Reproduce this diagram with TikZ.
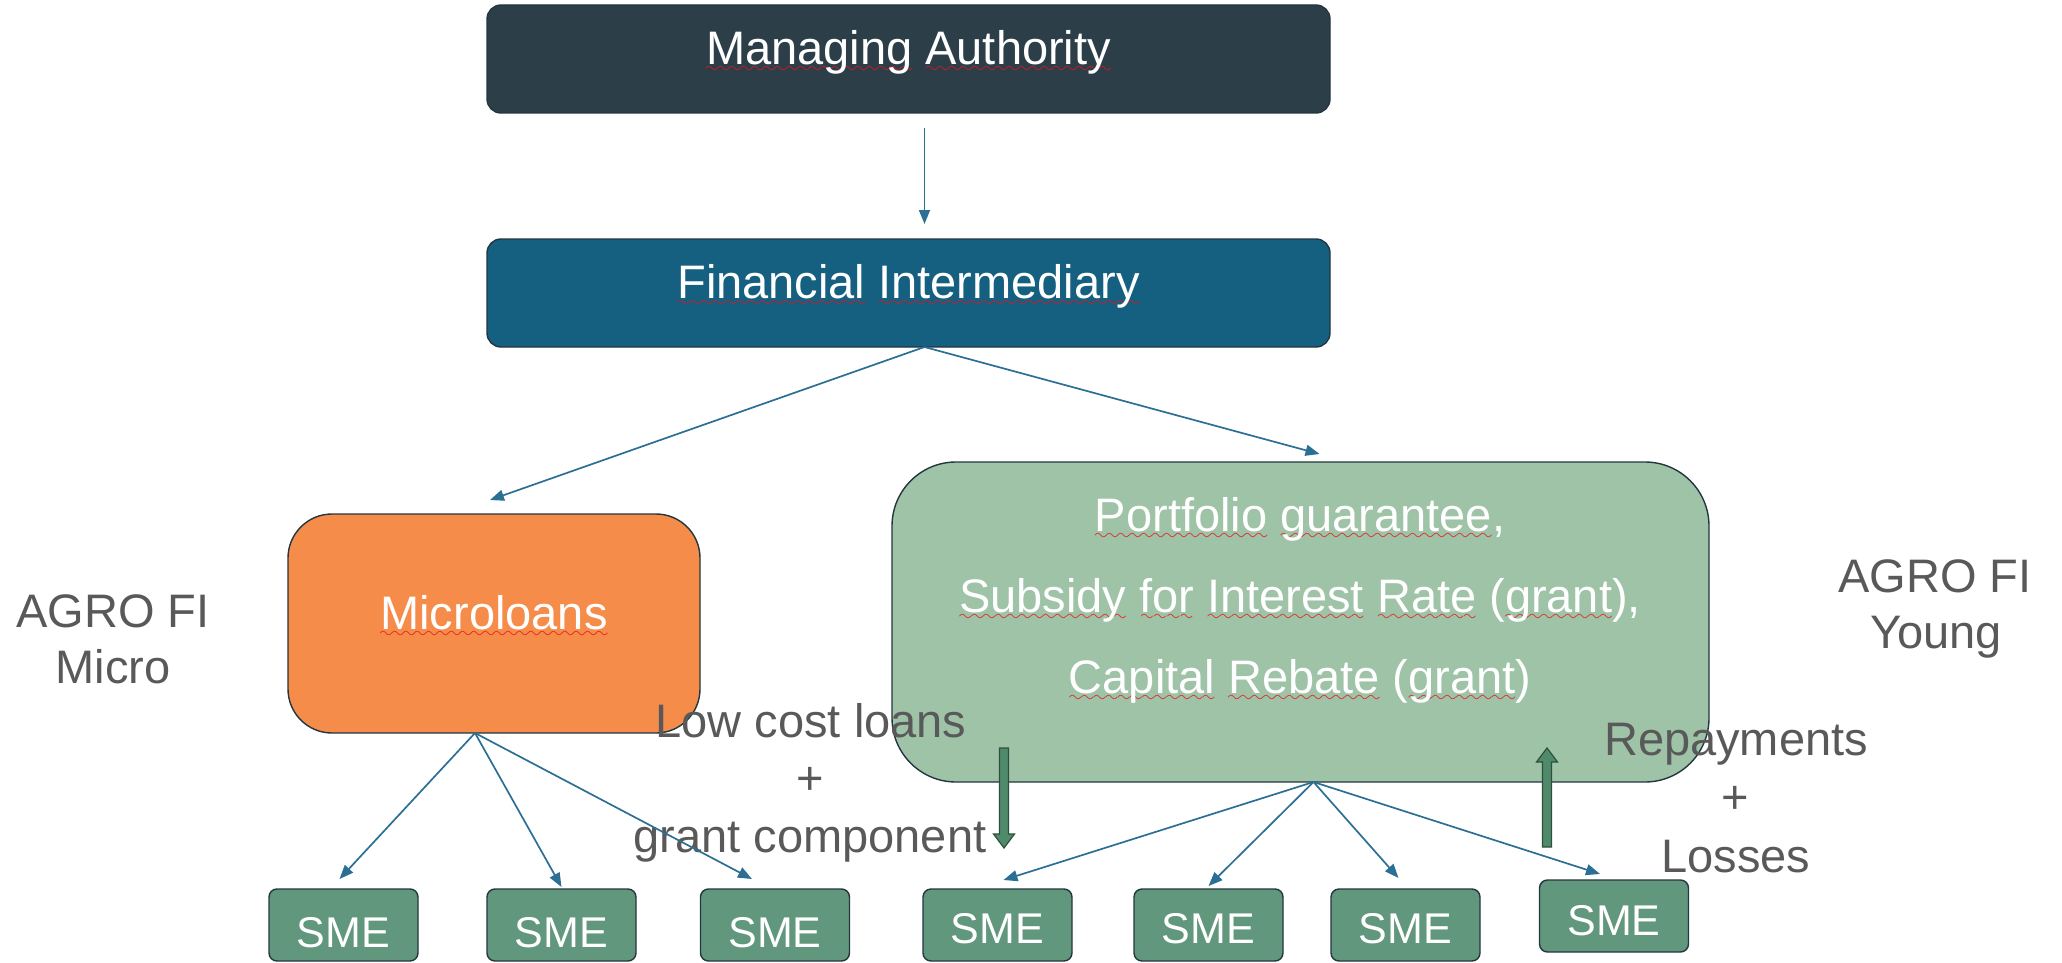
\documentclass[tikz,border=0pt]{standalone}
\usepackage{fontspec}
\setmainfont{Liberation Sans}
\usetikzlibrary{arrows.meta}
\definecolor{maC}{HTML}{2C3F49}
\definecolor{fiC}{HTML}{155F80}
\definecolor{mlC}{HTML}{F58C4A}
\definecolor{pgC}{HTML}{9EC3A7}
\definecolor{smeC}{HTML}{61977C}
\definecolor{edgeC}{HTML}{24363F}
\definecolor{connC}{HTML}{2C6F94}
\definecolor{grayC}{HTML}{595959}
\definecolor{blkC}{HTML}{4F8B6B}
\definecolor{blkE}{HTML}{2E4F3E}
\definecolor{sqred}{HTML}{E8141A}
\newcommand\bigf{\fontsize{23.5}{28}\selectfont}
\newcommand\smef{\fontsize{21.5}{26}\selectfont}
\font\wavefont=lasy8 \relax
\newsavebox\sqbox
\newcommand\sq[1]{\sbox\sqbox{#1}\rlap{\textcolor{sqred}{\lower4pt\hbox to\wd\sqbox{\xleaders\hbox{\wavefont\char58}\hfil}}}\usebox\sqbox}
\tikzset{
  boxs/.style={draw=edgeC, line width=0.7pt, inner sep=0pt, outer sep=0pt},
  boxt/.style={text=white, font=\bigf, inner sep=0pt, anchor=base},
  grayt/.style={text=grayC, font=\bigf, inner sep=0pt, anchor=base},
  smet/.style={text=white, font=\smef, inner sep=0pt, anchor=base},
  smebox/.style={boxs, fill=smeC, rounded corners=4pt, minimum width=74.5pt, minimum height=36pt},
  conn/.style={draw=connC, line width=0.85pt, -{Triangle[length=7pt,width=5.5pt]}},
  blk/.style={fill=blkC, draw=blkE, line width=0.6pt, line join=miter}
}
\begin{document}
\begin{tikzpicture}[x=0.5pt,y=-0.5pt]
\useasboundingbox (0,0) rectangle (2062,963);
% boxes
\node[boxs, fill=maC, rounded corners=7pt, minimum width=421.5pt, minimum height=54pt] (ma) at (908.5,59) {};
\node[boxs, fill=fiC, rounded corners=7pt, minimum width=421.5pt, minimum height=54pt] (fi) at (908.5,293) {};
\node[boxs, fill=mlC, rounded corners=22pt, minimum width=206pt, minimum height=109.5pt] (ml) at (494,623.5) {};
\node[boxs, fill=pgC, rounded corners=32pt, minimum width=408.5pt, minimum height=160pt] (pg) at (1300.5,622) {};
\node[smebox] (sme1) at (343.5,925) {};
\node[smebox] (sme2) at (561.5,925) {};
\node[smebox] (sme3) at (775,925) {};
\node[smebox] (sme4) at (997.5,925) {};
\node[smebox] (sme5) at (1208.5,925) {};
\node[smebox] (sme6) at (1405.5,925) {};
\node[smebox] (sme7) at (1614,916) {};
% box texts
\node[boxt] (mat) at (908.5,65) {\sq{Managing} \sq{Authority}};
\node[boxt] (fit) at (908.5,298) {\sq{Financial} \sq{Intermediary}};
\node[boxt] (mlt) at (494,629) {\sq{Microloans}};
\node[boxt] (pgt1) at (1300,531) {\sq{Portfolio} \sq{guarantee},};
\node[boxt] (pgt2) at (1300,612) {\sq{Subsidy} \sq{for} \sq{Interest} \sq{Rate} (\sq{grant}),};
\node[boxt] (pgt3) at (1300,693) {\sq{Capital} \sq{Rebate} (\sq{grant})};
\foreach \i/\x/\y in {1/343.5/947,2/561.5/947,3/775/947,4/997.5/943,5/1208.5/943,6/1405.5/943,7/1614/935}
  \node[smet] (smet\i) at (\x,\y) {SME};
% gray labels
\node[grayt] (agm1) at (113,627) {AGRO FI};
\node[grayt] (agm2) at (113,683) {Micro};
\node[grayt] (agy1) at (1935,592) {AGRO FI};
\node[grayt] (agy2) at (1936,648) {Young};
\node[grayt] (lc1) at (811,737) {Low cost loans};
\node[grayt] (lc2) at (810,794.5) {+};
\node[grayt] (lc3) at (810,852) {grant component};
\node[grayt] (rp1) at (1736,755) {Repayments};
\node[grayt] (rp2) at (1735,813.5) {+};
\node[grayt] (rp3) at (1736,872) {Losses};
% connectors
\draw[conn, shorten <=7.5pt, shorten >=7.5pt] ([xshift=8pt]ma.south) -- ([xshift=8pt]fi.north);
\draw[conn] ([xshift=8pt]fi.south) -- ([xshift=-2pt,yshift=7pt]ml.north);
\draw[conn] ([xshift=8pt]fi.south) -- ([xshift=9.5pt,yshift=4pt]pg.north);
\draw[conn] ([xshift=-9.5pt]ml.south) -- ([xshift=-2pt,yshift=5pt]sme1.north);
\draw[conn] ([xshift=-9.5pt]ml.south) -- ([yshift=1pt]sme2.north);
\draw[conn] ([xshift=-9.5pt]ml.south) -- ([xshift=-11.5pt,yshift=5pt]sme3.north);
\draw[conn] ([xshift=6.5pt]pg.south) -- ([xshift=3pt,yshift=4.5pt]sme4.north);
\draw[conn] ([xshift=6.5pt]pg.south) -- ([yshift=1.5pt]sme5.north);
\draw[conn] ([xshift=6.5pt]pg.south) -- ([xshift=-3.5pt,yshift=5.5pt]sme6.north);
\draw[conn] ([xshift=6.5pt]pg.south) -- ([xshift=-7pt,yshift=3pt]sme7.north);
% block arrows
\draw[blk] (999.5,748) -- (1008.5,748) -- (1008.5,834) -- (1014.5,834) -- (1004,848) -- (993.5,834) -- (999.5,834) -- cycle;
\draw[blk] (1542.5,847) -- (1551.5,847) -- (1551.5,762) -- (1557.5,762) -- (1547,748) -- (1536.5,762) -- (1542.5,762) -- cycle;
\end{tikzpicture}
\end{document}
